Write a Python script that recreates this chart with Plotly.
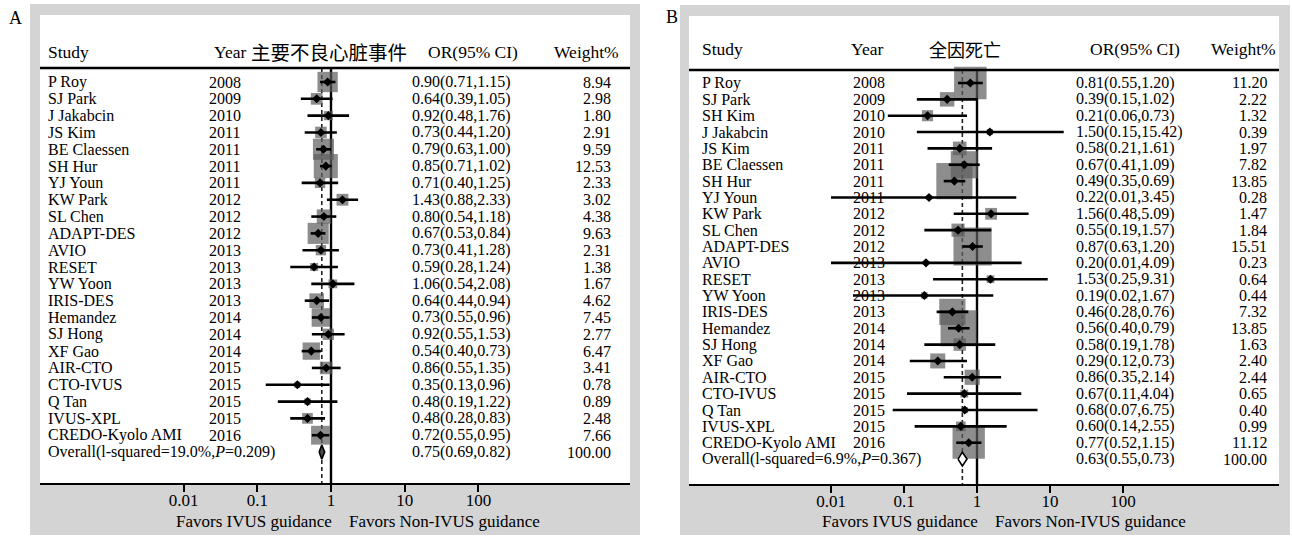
import math
import plotly.graph_objects as go

W, H = 1292, 536

# ---------------- data: panel A (主要不良心脏事件) ----------------
studies_a = ["P Roy", "SJ Park", "J Jakabcin", "JS Kim", "BE Claessen", "SH Hur", "YJ Youn",
             "KW Park", "SL Chen", "ADAPT-DES", "AVIO", "RESET", "YW Yoon", "IRIS-DES",
             "Hemandez", "SJ Hong", "XF Gao", "AIR-CTO", "CTO-IVUS", "Q Tan", "IVUS-XPL",
             "CREDO-Kyolo AMI"]
years_a = [2008, 2009, 2010, 2011, 2011, 2011, 2011, 2012, 2012, 2012, 2013, 2013, 2013, 2013,
           2014, 2014, 2014, 2015, 2015, 2015, 2015, 2016]
or_a = [0.90, 0.64, 0.92, 0.73, 0.79, 0.85, 0.71, 1.43, 0.80, 0.67, 0.73, 0.59, 1.06, 0.64,
        0.73, 0.92, 0.54, 0.86, 0.35, 0.48, 0.48, 0.72]
lo_a = [0.71, 0.39, 0.48, 0.44, 0.63, 0.71, 0.40, 0.88, 0.54, 0.53, 0.41, 0.28, 0.54, 0.44,
        0.55, 0.55, 0.40, 0.55, 0.13, 0.19, 0.28, 0.55]
hi_a = [1.15, 1.05, 1.76, 1.20, 1.00, 1.02, 1.25, 2.33, 1.18, 0.84, 1.28, 1.24, 2.08, 0.94,
        0.96, 1.53, 0.73, 1.35, 0.96, 1.22, 0.83, 0.95]
w_a = [8.94, 2.98, 1.80, 2.91, 9.59, 12.53, 2.33, 3.02, 4.38, 9.63, 2.31, 1.38, 1.67, 4.62,
       7.45, 2.77, 6.47, 3.41, 0.78, 0.89, 2.48, 7.66]
overall_a = (0.75, 0.69, 0.82)
het_a = ("19.0%", "0.209")
title_a = "主要不良心脏事件"

# ---------------- data: panel B (全因死亡) ----------------
studies_b = ["P Roy", "SJ Park", "SH Kim", "J Jakabcin", "JS Kim", "BE Claessen", "SH Hur",
             "YJ Youn", "KW Park", "SL Chen", "ADAPT-DES", "AVIO", "RESET", "YW Yoon",
             "IRIS-DES", "Hemandez", "SJ Hong", "XF Gao", "AIR-CTO", "CTO-IVUS", "Q Tan",
             "IVUS-XPL", "CREDO-Kyolo AMI"]
years_b = [2008, 2009, 2010, 2010, 2011, 2011, 2011, 2011, 2012, 2012, 2012, 2013, 2013, 2013,
           2013, 2014, 2014, 2014, 2015, 2015, 2015, 2015, 2016]
or_b = [0.81, 0.39, 0.21, 1.50, 0.58, 0.67, 0.49, 0.22, 1.56, 0.55, 0.87, 0.20, 1.53, 0.19,
        0.46, 0.56, 0.58, 0.29, 0.86, 0.67, 0.68, 0.60, 0.77]
lo_b = [0.55, 0.15, 0.06, 0.15, 0.21, 0.41, 0.35, 0.01, 0.48, 0.19, 0.63, 0.01, 0.25, 0.02,
        0.28, 0.40, 0.19, 0.12, 0.35, 0.11, 0.07, 0.14, 0.52]
hi_b = [1.20, 1.02, 0.73, 15.42, 1.61, 1.09, 0.69, 3.45, 5.09, 1.57, 1.20, 4.09, 9.31, 1.67,
        0.76, 0.79, 1.78, 0.73, 2.14, 4.04, 6.75, 2.55, 1.15]
w_b = [11.20, 2.22, 1.32, 0.39, 1.97, 7.82, 13.85, 0.28, 1.47, 1.84, 15.51, 0.23, 0.64, 0.44,
       7.32, 13.85, 1.63, 2.40, 2.44, 0.65, 0.40, 0.99, 11.12]
overall_b = (0.63, 0.55, 0.73)
het_b = ("6.9%", "0.367")
title_b = "全因死亡"

tick_vals = [0.01, 0.1, 1, 10, 100]
tick_text = ["0.01", "0.1", "1", "10", "100"]
left_label = "Favors IVUS guidance"
right_label = "Favors Non-IVUS guidance"

SERIF = "Liberation Serif, Times New Roman, serif"
CJK = "Noto Sans CJK SC"
FS = 16          # row text
FS_H = 17.5      # headers
FS_AX = 17       # axis tick labels / bottom labels
GRAY_FRAME = "#d4d4d4"
BOX = "#5c5c5c"

fig = go.Figure()
shapes = []
annotations = []


def px(x):
    return x / W


def py(y):
    return 1 - y / H


def panel(k, letter, studies, years, ors, los, his, ws, overall, het, title, g, diamond_fill):
    xa = "x" if k == 1 else "x%d" % k
    ya = "y" if k == 1 else "y%d" % k
    n = len(studies)
    rows = list(range(n))
    row_of = lambda ypx: (ypx - g["row0"]) / g["rowh"]
    ix0, iy0, ix1, iy1 = g["inner"]
    fx0, fy0, fx1, fy1 = g["frame"]

    # frame
    shapes.append(dict(type="rect", xref="paper", yref="paper", x0=px(fx0), x1=px(fx1),
                       y0=py(fy1), y1=py(fy0), fillcolor=GRAY_FRAME, line=dict(width=0),
                       layer="below"))
    shapes.append(dict(type="rect", xref="paper", yref="paper", x0=px(ix0), x1=px(ix1),
                       y0=py(iy1), y1=py(iy0), fillcolor="white", line=dict(width=0),
                       layer="below"))
    # header rule
    shapes.append(dict(type="line", xref="paper", yref="paper", x0=px(ix0), x1=px(ix1),
                       y0=py(g["hline"]), y1=py(g["hline"]), line=dict(color="black", width=2.5)))

    top = row_of(g["hline"])
    bottom = row_of(iy1) + 2
    ov, ovl, ovh = overall
    # dashed overall line
    fig.add_trace(go.Scatter(x=[ov, ov], y=[top, bottom], mode="lines", xaxis=xa, yaxis=ya,
                             line=dict(color="#222222", width=1.6, dash="4px,3px"),
                             hoverinfo="skip", showlegend=False))
    # null line
    fig.add_trace(go.Scatter(x=[1, 1], y=[top, bottom], mode="lines", xaxis=xa, yaxis=ya,
                             line=dict(color="black", width=2.4),
                             hoverinfo="skip", showlegend=False))
    # weight boxes
    fig.add_trace(go.Scatter(x=ors, y=rows, mode="markers", xaxis=xa, yaxis=ya,
                             marker=dict(symbol="square", color=BOX,
                                         size=[g["box"] * math.sqrt(w) for w in ws],
                                         line=dict(width=0)),
                             hoverinfo="skip", showlegend=False))
    # CI lines
    cx, cy = [], []
    for i in rows:
        cx += [los[i], his[i], None]
        cy += [i, i, None]
    fig.add_trace(go.Scatter(x=cx, y=cy, mode="lines", xaxis=xa, yaxis=ya,
                             line=dict(color="black", width=2.6),
                             hoverinfo="skip", showlegend=False))
    # point estimates
    fig.add_trace(go.Scatter(x=ors, y=rows, mode="markers", xaxis=xa, yaxis=ya,
                             marker=dict(symbol="diamond", color="black", size=7),
                             hoverinfo="skip", showlegend=False))
    # overall diamond
    h = 0.42
    fig.add_trace(go.Scatter(x=[ovl, ov, ovh, ov, ovl], y=[n, n - h, n, n + h, n],
                             mode="lines", fill="toself", fillcolor=diamond_fill,
                             xaxis=xa, yaxis=ya, line=dict(color="black", width=1.6),
                             hoverinfo="skip", showlegend=False))

    # axes
    xr = [(ix0 - g["one"]) / g["dec"], (ix1 - g["one"]) / g["dec"]]
    yr = [row_of(iy1), row_of(iy0)]
    xkey = "xaxis" if k == 1 else "xaxis%d" % k
    ykey = "yaxis" if k == 1 else "yaxis%d" % k
    fig.layout[xkey] = dict(domain=[px(ix0), px(ix1)], type="log", range=xr,
                            anchor=ya, showgrid=False, zeroline=False, fixedrange=True,
                            showline=True, linecolor="black", linewidth=2.2,
                            ticks="outside", ticklen=7, tickwidth=2, tickcolor="black",
                            ticklabelstandoff=-7,
                            tickvals=tick_vals, ticktext=tick_text,
                            tickfont=dict(family=SERIF, size=FS_AX, color="black"))
    fig.layout[ykey] = dict(domain=[py(iy1), py(iy0)], range=yr, visible=False,
                            anchor=xa, showgrid=False, zeroline=False, fixedrange=True)

    def ann(text, x, y, anchor="left", yref="paper", font=None, size=FS):
        annotations.append(dict(text=text, x=px(x), y=y if yref != "paper" else py(y),
                                xref="paper", yref=ya if yref != "paper" else "paper",
                                xanchor=anchor, yanchor="middle", showarrow=False,
                                font=dict(family=font or SERIF, size=size, color="black")))

    # headers
    c = g["cols"]
    ann("Study", c["study"], g["htext"], size=FS_H)
    ann("Year", c["hyear"], g["htext"], size=FS_H)
    ann(title, c["htitle"], g["htext"], font=CJK, size=g["cjk"])
    ann("OR(95% CI)", c["hor"], g["htext"], size=FS_H)
    ann("Weight%", c["hwt"], g["htext"], anchor="right", size=FS_H)
    # rows
    for i in rows:
        ann(studies[i], c["study"], i, yref="data")
        ann(str(years[i]), c["year"], i, yref="data")
        ann("%.2f(%.2f,%.2f)" % (ors[i], los[i], his[i]), c["or"], i, yref="data")
        ann("%.2f" % ws[i], c["wt"], i, anchor="right", yref="data")
    ann("Overall(l-squared=%s,<i>P</i>=%s)" % het, c["study"], n, yref="data")
    ann("%.2f(%.2f,%.2f)" % overall, c["or"], n, yref="data")
    ann("%.2f" % 100, c["wt"], n, anchor="right", yref="data")
    # bottom labels
    ann(left_label, g["one"] + 3, g["fav"], anchor="right", size=FS_AX)
    ann(right_label, g["one"] + 16, g["fav"], anchor="left", size=FS_AX)
    # panel letter
    ann(letter, g["letter"][0], g["letter"][1], anchor="center", size=18)


geom_a = dict(frame=(30, 4, 640, 535), inner=(40, 15, 630, 483), one=331, dec=73.7,
              row0=82, rowh=16.82, hline=68, htext=52, box=6.8, cjk=19.5, fav=521,
              letter=(15, 18),
              cols={"study": 46, "year": 207, "or": 410, "wt": 613,
                    "hyear": 212, "htitle": 249, "hor": 426, "hwt": 621})
geom_b = dict(frame=(680, 5, 1290, 535), inner=(689, 16, 1279, 484), one=977, dec=73.0,
              row0=83, rowh=16.35, hline=70, htext=49, box=9.7, cjk=18, fav=521,
              letter=(672, 17),
              cols={"study": 700, "year": 851, "or": 1074, "wt": 1269,
                    "hyear": 849, "htitle": 927, "hor": 1088, "hwt": 1278})

panel(1, "A", studies_a, years_a, or_a, lo_a, hi_a, w_a, overall_a, het_a, title_a, geom_a,
      "#4a4a4a")
panel(2, "B", studies_b, years_b, or_b, lo_b, hi_b, w_b, overall_b, het_b, title_b, geom_b,
      "white")

fig.update_layout(width=W, height=H, margin=dict(l=0, r=0, t=0, b=0),
                  paper_bgcolor="white", plot_bgcolor="rgba(0,0,0,0)",
                  shapes=shapes, annotations=annotations, showlegend=False)

fig.write_html("out.html", config={"displayModeBar": False},
               post_script="document.body.style.margin='0';"
                           "document.body.style.overflow='hidden';")
